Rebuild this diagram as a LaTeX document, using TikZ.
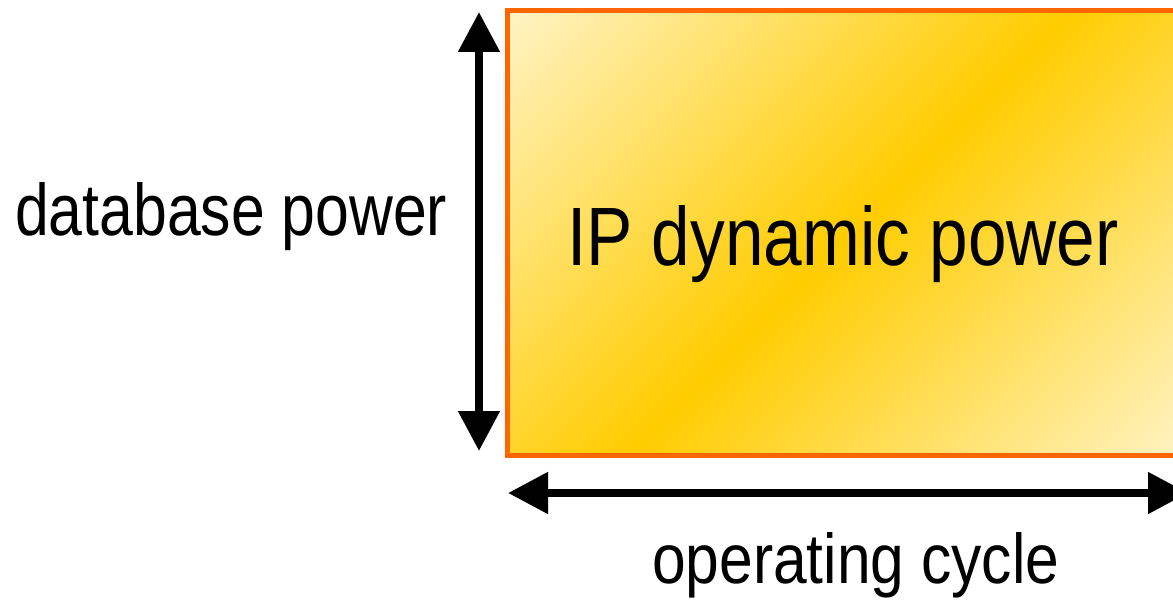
\documentclass[tikz,border=0pt]{standalone}
\usepackage{fontspec}
\setmainfont{Liberation Sans}
\usetikzlibrary{arrows.meta}
\definecolor{cream}{RGB}{255,247,216}
\definecolor{gold}{RGB}{255,204,0}
\definecolor{rimorange}{RGB}{255,102,0}
\pgfdeclareverticalshading{goldband}{100bp}{color(0bp)=(cream); color(11bp)=(cream); color(50bp)=(gold); color(89bp)=(cream); color(100bp)=(cream)}
\tikzset{
  powerbox/.style={draw=rimorange, line width=5pt, shading=goldband, shading angle=45},
  dimarrow/.style={line width=8pt, {Triangle[width=40pt,length=40pt]}-{Triangle[width=40pt,length=40pt]}, shorten <=0pt, shorten >=0pt},
  caption/.style={inner sep=0pt, anchor=base west, text=black}
}
\begin{document}
\begin{tikzpicture}[x=1pt,y=-1pt]
  \clip (0,0) rectangle (1173,602);
  % block with the diagonal gold gradient
  \coordinate (boxnw) at (507.5,10.5);
  \coordinate (boxse) at (1188,455);
  \shade[powerbox] (boxnw) rectangle (boxse);
  \draw[draw=rimorange, line width=5pt] (boxnw) rectangle (boxse);
  % dimension arrows
  \coordinate (vtop) at (479,12);
  \coordinate (vbot) at (479,451);
  \draw[dimarrow] (vtop) -- (vbot);
  \coordinate (hleft) at (508,493);
  \coordinate (hright) at (1188,493);
  \draw[dimarrow] (hleft) -- (hright);
  % labels
  \node[caption] (iplabel) at (567,265) {\resizebox{551pt}{60pt}{IP dynamic power}};
  \node[caption] (dblabel) at (15,235) {\resizebox{432pt}{53pt}{database power}};
  \node[caption] (cyclelabel) at (652,583) {\resizebox{407pt}{51pt}{operating cycle}};
\end{tikzpicture}
\end{document}
